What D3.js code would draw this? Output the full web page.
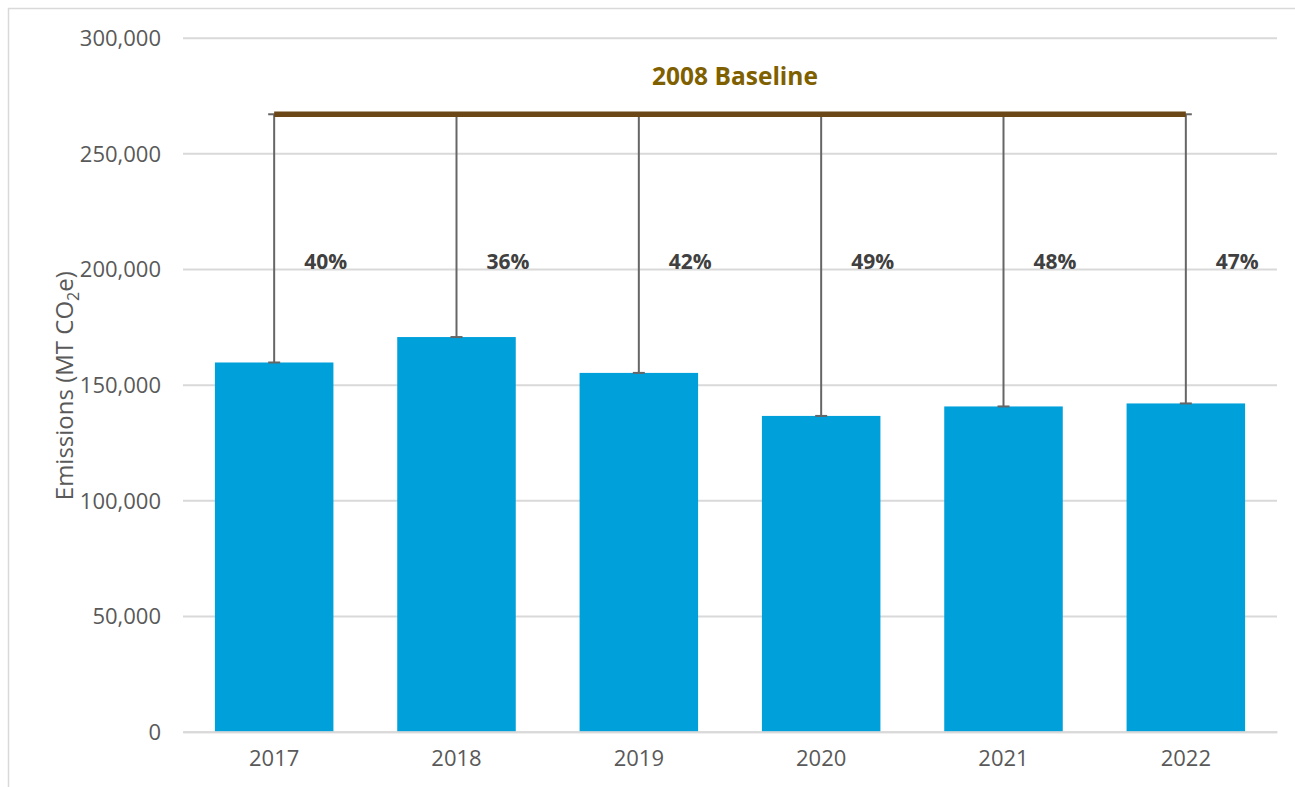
<!DOCTYPE html>
<html>
<head>
<meta charset="utf-8">
<script src="https://cdn.jsdelivr.net/npm/d3@7"></script>
<style>
    body { margin: 0; background: #fff; }
    svg { display: block; }
    svg text { font-family: "Open Sans", "Liberation Sans", sans-serif; }
</style>
</head>
<body>
<svg id="chart" width="1295" height="787"></svg>
<script>
/*
    Chart data
 */
var years = ["2017", "2018", "2019", "2020", "2021", "2022"];
var emissions = [159600, 170600, 155100, 136500, 140600, 141900];
var reductionLabels = ["40%", "36%", "42%", "49%", "48%", "47%"];
var baselineValue = 266900;
var baselineTitle = "2008 Baseline";
var yTicks = [0, 50000, 100000, 150000, 200000, 250000, 300000];

var width = 1295;
var height = 787;

var margin = {left: 183, right: 1277, top: 37.7, bottom: 731.7};

var svg = d3.select("#chart");

// outer chart border (only left and top show in the frame)
svg.append("rect")
    .attr("x", 8.5)
    .attr("y", 8.5)
    .attr("width", 1300)
    .attr("height", 800)
    .attr("fill", "none")
    .attr("stroke", "#d9d9d9")
    .attr("stroke-width", 1.5);

var x = d3.scaleBand()
    .domain(years)
    .range([margin.left, margin.right])
    .paddingInner(0.35)
    .paddingOuter(0.175);

var y = d3.scaleLinear()
    .domain([0, 300000])
    .range([margin.bottom, margin.top]);

/*
    Gridlines + y axis labels
 */
var yAxis = d3.axisLeft(y)
    .tickValues(yTicks)
    .tickSize(-(margin.right - margin.left))
    .tickPadding(22)
    .tickFormat(d3.format(","));

var yG = svg.append("g")
    .attr("transform", "translate(" + margin.left + ",0)")
    .call(yAxis)
    .attr("font-family", null)
    .attr("font-size", null);

yG.select(".domain").remove();
yG.selectAll(".tick line")
    .attr("stroke", "#d9d9d9")
    .attr("stroke-width", 2);
yG.selectAll(".tick text")
    .attr("fill", "#595959")
    .style("font-size", "22px")
    .attr("dy", "0.35em");

/*
    Bars
 */
var data = years.map(function(d, i){
    return {year: d, value: emissions[i], label: reductionLabels[i]};
});

svg.selectAll(".bar")
    .data(data)
    .enter()
    .append("rect")
    .attr("class", "bar")
    .attr("x", function(d){ return x(d.year); })
    .attr("y", function(d){ return y(d.value); })
    .attr("width", x.bandwidth())
    .attr("height", function(d){ return y(0) - y(d.value); })
    .attr("fill", "#00a0db");

// x axis
var xAxis = d3.axisBottom(x)
    .tickSize(0)
    .tickPadding(19);

var xG = svg.append("g")
    .attr("transform", "translate(0," + y(0) + ")")
    .call(xAxis)
    .attr("font-family", null)
    .attr("font-size", null);

xG.select(".domain")
    .attr("stroke", "#d9d9d9")
    .attr("stroke-width", 2);
xG.selectAll(".tick text")
    .attr("fill", "#595959")
    .style("font-size", "22px");

/*
    Error-bar style drop lines from the baseline down to each bar
 */
var capHalf = 6;
var drops = svg.selectAll(".drop")
    .data(data)
    .enter()
    .append("g")
    .attr("class", "drop");

drops.append("line")
    .attr("x1", function(d){ return x(d.year) + x.bandwidth() / 2; })
    .attr("x2", function(d){ return x(d.year) + x.bandwidth() / 2; })
    .attr("y1", y(baselineValue))
    .attr("y2", function(d){ return y(d.value); })
    .attr("stroke", "#666666")
    .attr("stroke-width", 2);

drops.append("line")
    .attr("x1", function(d){ return x(d.year) + x.bandwidth() / 2 - capHalf; })
    .attr("x2", function(d){ return x(d.year) + x.bandwidth() / 2 + capHalf; })
    .attr("y1", function(d){ return y(d.value); })
    .attr("y2", function(d){ return y(d.value); })
    .attr("stroke", "#666666")
    .attr("stroke-width", 2);

drops.append("line")
    .attr("x1", function(d){ return x(d.year) + x.bandwidth() / 2 - capHalf; })
    .attr("x2", function(d){ return x(d.year) + x.bandwidth() / 2 + capHalf; })
    .attr("y1", y(baselineValue))
    .attr("y2", y(baselineValue))
    .attr("stroke", "#666666")
    .attr("stroke-width", 2);

/*
    2008 baseline line
 */
var firstCenter = x(years[0]) + x.bandwidth() / 2;
var lastCenter = x(years[years.length - 1]) + x.bandwidth() / 2;

svg.append("line")
    .attr("x1", firstCenter)
    .attr("x2", lastCenter)
    .attr("y1", y(baselineValue))
    .attr("y2", y(baselineValue))
    .attr("stroke", "#6b4616")
    .attr("stroke-width", 5.5);

svg.append("text")
    .attr("x", (firstCenter + lastCenter) / 2 + 5)
    .attr("y", 85)
    .attr("text-anchor", "middle")
    .attr("fill", "#7f6000")
    .style("font-size", "24.5px")
    .style("font-weight", "bold")
    .text(baselineTitle);

/*
    Percent reduction labels
 */
svg.selectAll(".pct")
    .data(data)
    .enter()
    .append("text")
    .attr("class", "pct")
    .attr("x", function(d){ return x(d.year) + x.bandwidth() / 2 + 30; })
    .attr("y", y(200000))
    .attr("fill", "#404040")
    .style("font-size", "21px")
    .style("font-weight", "bold")
    .text(function(d){ return d.label; });

/*
    Y axis title
 */
var yTitle = svg.append("text")
    .attr("transform", "translate(73," + ((margin.top + margin.bottom) / 2 + 1) + ") rotate(-90)")
    .attr("text-anchor", "middle")
    .attr("fill", "#595959")
    .style("font-size", "24px");

yTitle.append("tspan").text("Emissions (MT CO");
yTitle.append("tspan").attr("dy", 6).style("font-size", "16px").text("2");
yTitle.append("tspan").attr("dy", -6).text("e)");
</script>
</body>
</html>
